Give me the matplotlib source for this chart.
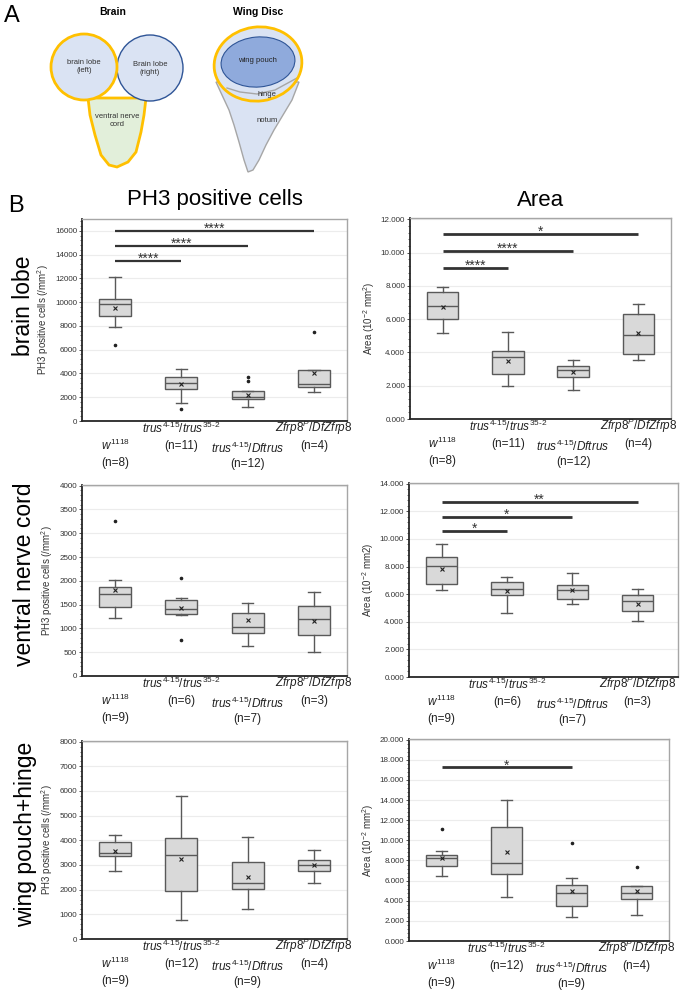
import matplotlib
matplotlib.use("Agg")
import matplotlib.pyplot as plt
import matplotlib.patches as mpatches
from matplotlib.ticker import MultipleLocator, AutoMinorLocator, FormatStrFormatter

plt.rcParams["font.family"] = ["Liberation Sans", "DejaVu Sans"]
plt.rcParams["mathtext.fontset"] = "custom"
plt.rcParams["mathtext.rm"] = "Liberation Sans"
plt.rcParams["mathtext.it"] = "Liberation Sans:italic"
plt.rcParams["mathtext.bf"] = "Liberation Sans:bold"

W, H = 692, 990

# --- data ---
GENOTYPES = [
    r"$\mathit{w^{1118}}$",
    r"$\mathit{trus^{4\text{-}15}/trus^{35\text{-}2}}$",
    r"$\mathit{trus^{4\text{-}15}/Dftrus}$",
    r"$\mathit{Zfrp8^{P}/DfZfrp8}$",
]
N_BRAIN = [8, 11, 12, 4]
N_VNC = [9, 6, 7, 3]
N_WING = [9, 12, 9, 4]

# brain lobe, PH3 positive cells (/mm2)
brain_ph3_lo = [7940, 1550, 1160, 2430]
brain_ph3_q1 = [8870, 2660, 1840, 2820]
brain_ph3_med = [9860, 3220, 1980, 3110]
brain_ph3_q3 = [10280, 3670, 2490, 4290]
brain_ph3_hi = [12120, 4350, 2490, 4290]
brain_ph3_mean = [9490, 3080, 2230, 4070]
brain_ph3_out = [[6360], [1050], [3360, 3730], [7510]]
brain_ph3_sig = [(2, 13500, "****"), (3, 14700, "****"), (4, 16000, "****")]

# brain lobe, area (10^-2 mm2)
brain_area_lo = [5.19, 1.96, 1.76, 3.55]
brain_area_q1 = [5.99, 2.72, 2.52, 3.91]
brain_area_med = [6.79, 3.71, 2.92, 5.05]
brain_area_q3 = [7.61, 4.11, 3.19, 6.31]
brain_area_hi = [7.95, 5.25, 3.55, 6.91]
brain_area_mean = [6.73, 3.51, 2.82, 5.15]
brain_area_out = [[], [], [], []]
brain_area_sig = [(2, 9.1, "****"), (3, 10.1, "****"), (4, 11.1, "*")]

# ventral nerve cord, PH3
vnc_ph3_lo = [1210, 1290, 640, 510]
vnc_ph3_q1 = [1440, 1310, 910, 860]
vnc_ph3_med = [1730, 1400, 1030, 1200]
vnc_ph3_q3 = [1860, 1590, 1330, 1480]
vnc_ph3_hi = [2020, 1640, 1540, 1770]
vnc_ph3_mean = [1800, 1430, 1170, 1160]
vnc_ph3_out = [[3250], [2070, 750], [], []]
vnc_ph3_sig = []

# ventral nerve cord, area
vnc_area_lo = [6.30, 4.67, 5.27, 4.02]
vnc_area_q1 = [6.74, 5.92, 5.63, 4.76]
vnc_area_med = [8.01, 6.40, 6.30, 5.51]
vnc_area_q3 = [8.71, 6.90, 6.69, 5.92]
vnc_area_hi = [9.60, 7.22, 7.55, 6.35]
vnc_area_mean = [7.79, 6.25, 6.30, 5.32]
vnc_area_out = [[], [], [], []]
vnc_area_sig = [(2, 10.58, "*"), (3, 11.59, "*"), (4, 12.65, "**")]

# wing pouch + hinge, PH3
wing_ph3_lo = [2740, 780, 1210, 2280]
wing_ph3_q1 = [3380, 1950, 2040, 2770]
wing_ph3_med = [3490, 3410, 2280, 3010]
wing_ph3_q3 = [3950, 4080, 3130, 3190]
wing_ph3_hi = [4210, 5800, 4130, 3600]
wing_ph3_mean = [3570, 3250, 2520, 2980]
wing_ph3_out = [[], [], [], []]
wing_ph3_sig = []

# wing pouch + hinge, area
wing_area_lo = [6.48, 4.39, 2.36, 2.59]
wing_area_q1 = [7.44, 6.68, 3.46, 4.19]
wing_area_med = [8.24, 7.71, 4.78, 4.78]
wing_area_q3 = [8.50, 11.33, 5.55, 5.48]
wing_area_hi = [8.97, 14.05, 6.28, 5.48]
wing_area_mean = [8.24, 8.80, 4.95, 4.92]
wing_area_out = [[11.16], [], [9.73], [7.38]]
wing_area_sig = [(3, 17.24, "*")]

# --- figure ---
fig = plt.figure(figsize=(W / 100, H / 100), dpi=100)
bg = fig.add_axes([0, 0, 1, 1])
bg.set_xlim(0, W)
bg.set_ylim(H, 0)
bg.axis("off")

# Panel A schematic
BLUE_FILL = "#dae3f3"
GOLD = "#ffc000"
vnc = mpatches.Polygon(
    [(88, 98), (146, 98), (144, 115), (141, 132), (136, 152), (128, 162),
     (117, 167), (109, 165), (101, 155), (95, 135), (90, 115)],
    closed=True, facecolor="#e2efda", edgecolor=GOLD, lw=2, zorder=1)
bg.add_patch(vnc)
bg.add_patch(mpatches.Circle((150, 68), 33, facecolor=BLUE_FILL, edgecolor="#2f5597", lw=1, zorder=2))
bg.add_patch(mpatches.Circle((84, 67), 33, facecolor=BLUE_FILL, edgecolor=GOLD, lw=2, zorder=3))
bg.text(84, 67, "brain lobe\n(left)", ha="center", va="center", fontsize=5.5, color="#333333", zorder=4)
bg.text(150, 68, "Brain lobe\n(right)", ha="center", va="center", fontsize=5.5, color="#333333", zorder=4)
bg.text(117, 121, "ventral nerve\ncord", ha="center", va="center", fontsize=5.5, color="#333333", zorder=4)

notum = mpatches.Polygon(
    [(216, 82), (222, 95), (229, 110), (234, 125), (239, 142), (244, 160), (248, 172),
     (253, 170), (259, 160), (266, 145), (274, 130), (283, 115), (292, 100), (299, 82)],
    closed=True, facecolor=BLUE_FILL, edgecolor="#a6a6a6", lw=1, zorder=1)
bg.add_patch(notum)
bg.add_patch(mpatches.Ellipse((258, 64), 88, 74, angle=-8, facecolor=BLUE_FILL, edgecolor="none", zorder=2))
bg.add_patch(mpatches.Ellipse((258, 62), 74, 50, angle=-5, facecolor="#8faadc", edgecolor="#2f5597", lw=0.8, zorder=3))
bg.plot([227, 240, 257, 275, 297], [88, 92, 94, 90, 78], color="#a6a6a6", lw=1, zorder=3)
bg.add_patch(mpatches.Ellipse((258, 64), 88, 74, angle=-8, facecolor="none", edgecolor=GOLD, lw=2, zorder=4))
bg.text(257, 61, "wing pouch", ha="center", va="center", fontsize=5.5, color="#222222", zorder=5)
bg.text(267, 94, "hinge", ha="center", va="center", fontsize=5.5, color="#333333", zorder=5)
bg.text(267, 120, "notum", ha="center", va="center", fontsize=5.5, color="#333333", zorder=5)

bg.text(113, 12, "Brain", ha="center", va="center", fontsize=7.5, fontweight="bold")
bg.text(258, 12, "Wing Disc", ha="center", va="center", fontsize=7.5, fontweight="bold")
bg.text(4, 16, "A", ha="left", va="center", fontsize=17)
bg.text(8, 206, "B", ha="left", va="center", fontsize=17)
bg.text(215, 200, "PH3 positive cells", ha="center", va="center", fontsize=16)
bg.text(541, 200, "Area", ha="center", va="center", fontsize=16)
bg.text(24, 306, "brain lobe", ha="center", va="center", rotation=90, fontsize=16.5)
bg.text(25, 574, "ventral nerve cord", ha="center", va="center", rotation=90, fontsize=16.5)
bg.text(26, 834, "wing pouch+hinge", ha="center", va="center", rotation=90, fontsize=16.5)

# --- box plot panels ---
PANELS = [
    # (lo, q1, med, q3, hi, mean, out, sig, n, ytop, step, ylabel, fmt, rect px, xmax, bar lw)
    (brain_ph3_lo, brain_ph3_q1, brain_ph3_med, brain_ph3_q3, brain_ph3_hi, brain_ph3_mean,
     brain_ph3_out, brain_ph3_sig, N_BRAIN, 17000, 2000,
     r"PH3 positive cells (/mm$^2$)", "%d", (82, 219, 347, 421), 4.5, 1.6),
    (brain_area_lo, brain_area_q1, brain_area_med, brain_area_q3, brain_area_hi, brain_area_mean,
     brain_area_out, brain_area_sig, N_BRAIN, 12.08, 2,
     r"Area (10$^{-2}$ mm$^2$)", "%.3f", (410, 218, 671, 419), 4.5, 2.0),
    (vnc_ph3_lo, vnc_ph3_q1, vnc_ph3_med, vnc_ph3_q3, vnc_ph3_hi, vnc_ph3_mean,
     vnc_ph3_out, vnc_ph3_sig, N_VNC, 4014, 500,
     r"PH3 positive cells (/mm$^2$)", "%d", (82, 485, 347, 676), 4.5, 1.6),
    (vnc_area_lo, vnc_area_q1, vnc_area_med, vnc_area_q3, vnc_area_hi, vnc_area_mean,
     vnc_area_out, vnc_area_sig, N_VNC, 14.05, 2,
     r"Area (10$^{-2}$ mm2)", "%.3f", (409, 483, 678, 677), 4.62, 2.0),
    (wing_ph3_lo, wing_ph3_q1, wing_ph3_med, wing_ph3_q3, wing_ph3_hi, wing_ph3_mean,
     wing_ph3_out, wing_ph3_sig, N_WING, 8027, 1000,
     r"PH3 positive cells (/mm$^2$)", "%d", (82, 741, 347, 939), 4.5, 1.6),
    (wing_area_lo, wing_area_q1, wing_area_med, wing_area_q3, wing_area_hi, wing_area_mean,
     wing_area_out, wing_area_sig, N_WING, 20.07, 2,
     r"Area (10$^{-2}$ mm$^2$)", "%.3f", (409, 739, 669, 941), 4.5, 2.0),
]

NAME_OFF = [24, 7, 27, 7]   # px below axis for genotype name
N_OFF = [42, 25, 43, 25]    # px below axis for (n=..)
EDGE = "#595959"

for (lo, q1, med, q3, hi, mean, out, sig, ns, ytop, step, ylabel, fmt,
     rect, xmax, bar_lw) in PANELS:
    x0, y0, x1, y1 = rect
    ax = fig.add_axes([x0 / W, 1 - y1 / H, (x1 - x0) / W, (y1 - y0) / H])
    stats = [
        dict(whislo=lo[i], q1=q1[i], med=med[i], q3=q3[i], whishi=hi[i],
             mean=mean[i], fliers=out[i])
        for i in range(4)
    ]
    positions = [1, 2, 3, 4]
    ax.bxp(
        stats, positions=positions, widths=0.48, capwidths=0.17,
        patch_artist=True, showmeans=True,
        boxprops=dict(facecolor="#d9d9d9", edgecolor=EDGE, lw=1.0),
        whiskerprops=dict(color=EDGE, lw=1.0),
        capprops=dict(color=EDGE, lw=1.0),
        medianprops=dict(color=EDGE, lw=1.0),
        meanprops=dict(marker="x", markersize=3, markeredgecolor="#222222",
                       markeredgewidth=0.8, markerfacecolor="none"),
        flierprops=dict(marker="o", markersize=1.6, markerfacecolor="#222222",
                        markeredgecolor="#222222"),
    )
    for end, y, label in sig:
        ax.plot([1, end], [y, y], color="#333333", lw=bar_lw, solid_capstyle="butt")
        ax.annotate(label, xy=((1 + end) / 2, y), xytext=(0, 1.5), textcoords="offset points",
                    ha="center", va="center", fontsize=10, color="#333333")

    ax.set_xlim(0.5, xmax)
    ax.set_ylim(0, ytop)
    ax.yaxis.set_major_locator(MultipleLocator(step))
    ax.yaxis.set_minor_locator(AutoMinorLocator(5))
    ax.yaxis.set_major_formatter(FormatStrFormatter(fmt))
    ax.tick_params(axis="y", which="major", labelsize=5.8, length=2, width=0.6,
                   color="#333333", pad=1.5, labelcolor="#333333")
    ax.tick_params(axis="y", which="minor", length=1.2, width=0.5, color="#333333")
    ax.set_xticks(positions)
    ax.set_xticklabels([])
    ax.tick_params(axis="x", length=0)
    ax.set_ylabel(ylabel, fontsize=7, color="#333333", labelpad=3)
    ax.yaxis.grid(True, color="#ececec", lw=0.8)
    ax.set_axisbelow(True)
    for side in ("left", "bottom"):
        ax.spines[side].set_color("#262626")
        ax.spines[side].set_linewidth(1.3)
    for side in ("top", "right"):
        ax.spines[side].set_color("#a6a6a6")
        ax.spines[side].set_linewidth(1.0)

    for i, (geno, n) in enumerate(zip(GENOTYPES, ns)):
        ax.annotate(geno, xy=(positions[i], 0), xycoords=("data", "axes fraction"),
                    xytext=(0, -NAME_OFF[i] * 0.72), textcoords="offset points",
                    ha="center", va="center", fontsize=8.5, color="#222222",
                    annotation_clip=False)
        ax.annotate(f"(n={n})", xy=(positions[i], 0), xycoords=("data", "axes fraction"),
                    xytext=(0, -N_OFF[i] * 0.72), textcoords="offset points",
                    ha="center", va="center", fontsize=8.5, color="#222222",
                    annotation_clip=False)

fig.savefig("out.png", dpi=100, facecolor="white")
